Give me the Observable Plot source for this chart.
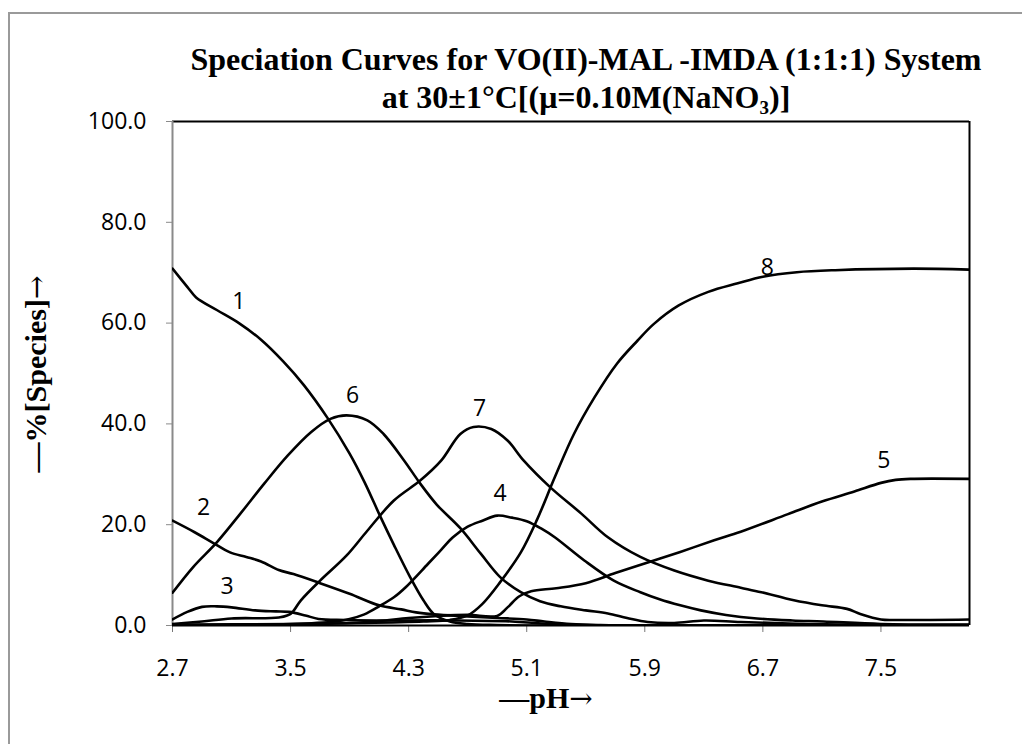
<!DOCTYPE html>
<html>
<head>
<meta charset="utf-8">
<script src="https://cdn.jsdelivr.net/npm/d3@7"></script>
<script src="https://cdn.jsdelivr.net/npm/@observablehq/plot@0.6"></script>
<style>
  html, body { margin: 0; padding: 0; background: #fff; }
  #wrap { position: relative; width: 1022px; height: 744px; overflow: hidden; background: #fff; }
  #wrap svg { position: absolute; left: 0; top: 0; }
  .frame { position: absolute; left: 8px; top: 12px; width: 1014px; height: 740px;
           border-left: 2px solid #9a9a9a; border-top: 2px solid #9a9a9a; }
  .ttl { position: absolute; width: 1000px; text-align: center;
         font-family: "Liberation Serif", "Times New Roman", serif; font-weight: bold;
         font-size: 32px; color: #000; white-space: nowrap; line-height: 1; }
  .ttl sub { font-size: 19px; vertical-align: -6px; line-height: 0; }
  .ylab { position: absolute; left: 36px; top: 374px; transform: translate(-50%, -50%) rotate(-90deg);
          font-family: "Liberation Serif", serif; font-weight: bold; font-size: 30px; white-space: nowrap; line-height: 1; }
  .xlab { position: absolute; left: 546px; top: 698px; transform: translate(-50%, -50%);
          font-family: "Liberation Serif", serif; font-weight: bold; font-size: 30px; white-space: nowrap; line-height: 1; }
  .arr { font-family: "DejaVu Serif", serif; font-weight: normal; font-size: 28px; }
</style>
</head>
<body>
<div id="wrap">
  <div class="frame"></div>
</div>
<script>
// ---- data ----
const xTicks = [2.7, 3.5, 4.3, 5.1, 5.9, 6.7, 7.5];
const yTicks = [0, 20, 40, 60, 80, 100];

const species1 = [[2.7,70.8],[2.8,67.2],[2.86,65.1],[3.0,62.6],[3.15,60.0],[3.3,56.7],[3.45,52.4],[3.59,47.7],[3.75,41.2],[3.9,34.1],[4.0,28.5],[4.11,21.5],[4.2,16.0],[4.31,9.6],[4.4,5.0],[4.47,2.3],[4.58,0.8],[4.7,0.3],[4.9,0.1],[5.2,0],[6.5,0],[8.1,0]];
const species2 = [[2.7,20.8],[2.85,18.5],[2.98,16.3],[3.09,14.5],[3.2,13.6],[3.3,12.7],[3.42,11.0],[3.52,10.2],[3.7,8.4],[3.9,6.3],[4.1,4.0],[4.25,3.2],[4.35,2.6],[4.47,2.2],[4.7,1.8],[4.9,1.5],[5.1,1.2],[5.22,0.8],[5.4,0.3],[5.6,0.1],[6.0,0],[8.1,0]];
const species3 = [[2.7,1.2],[2.8,2.7],[2.9,3.7],[3.0,3.8],[3.1,3.6],[3.26,3.0],[3.4,2.8],[3.49,2.7],[3.6,2.0],[3.69,1.3],[3.87,1.1],[4.2,1.0],[4.6,1.0],[5.0,0.8],[5.2,0.4],[5.5,0.1],[6.0,0],[8.1,0]];
const species4 = [[2.7,0],[3.5,0.3],[3.8,0.8],[3.9,1.3],[4.0,2.2],[4.1,3.8],[4.2,5.6],[4.28,7.6],[4.43,12.2],[4.52,15.0],[4.6,17.5],[4.7,19.6],[4.8,20.8],[4.9,21.8],[5.0,21.4],[5.1,20.7],[5.2,19.2],[5.29,17.5],[5.49,12.9],[5.69,8.9],[5.87,6.6],[6.0,5.2],[6.14,4.0],[6.28,3.0],[6.45,2.1],[6.66,1.4],[6.9,1.0],[7.11,0.8],[7.5,0.3],[8.1,0.2]];
const species5 = [[2.7,0],[3.5,0.2],[3.9,0.5],[4.1,0.9],[4.3,1.5],[4.5,1.9],[4.7,2.1],[4.9,1.9],[4.97,3.6],[5.05,5.8],[5.13,6.8],[5.3,7.4],[5.5,8.4],[5.7,10.4],[5.92,12.5],[6.14,14.6],[6.37,16.9],[6.55,18.6],[6.87,22.1],[7.1,24.6],[7.32,26.6],[7.5,28.3],[7.6,28.9],[7.7,29.1],[8.1,29.1]];
const species6 = [[2.7,6.5],[2.84,11.6],[3.0,16.5],[3.16,22.2],[3.32,28.1],[3.48,33.7],[3.64,38.4],[3.77,41.0],[3.88,41.7],[4.02,40.7],[4.13,38.0],[4.27,32.7],[4.38,28.1],[4.49,24.0],[4.65,19.3],[4.79,14.2],[4.92,9.6],[5.06,6.6],[5.19,4.8],[5.33,3.8],[5.5,3.0],[5.65,2.4],[5.78,1.5],[5.92,0.7],[6.1,0.5],[6.3,1.0],[6.55,0.7],[7.0,0.3],[7.5,0.1],[8.1,0.1]];
const species7 = [[2.7,0.3],[2.9,0.8],[3.1,1.4],[3.42,1.6],[3.5,2.3],[3.57,5.0],[3.7,8.9],[3.88,13.9],[4.02,18.8],[4.2,24.8],[4.38,28.8],[4.52,32.7],[4.65,38.0],[4.74,39.4],[4.86,39.0],[4.97,36.7],[5.08,32.7],[5.26,27.4],[5.47,22.2],[5.65,17.5],[5.87,13.6],[6.1,10.9],[6.33,8.9],[6.55,7.5],[6.69,6.6],[6.91,5.0],[7.1,4.0],[7.27,3.3],[7.36,2.3],[7.5,1.2],[7.6,1.1],[8.1,1.2]];
const species8 = [[2.7,0.2],[3.5,0.3],[4.0,0.5],[4.4,0.8],[4.58,1.1],[4.7,2.0],[4.8,4.3],[4.92,8.6],[5.06,14.5],[5.17,21.0],[5.29,29.4],[5.42,38.0],[5.56,45.3],[5.71,51.9],[5.85,56.5],[5.96,59.8],[6.13,63.5],[6.33,66.2],[6.53,67.9],[6.7,69.2],[6.93,70.1],[7.19,70.5],[7.72,70.8],[8.1,70.6]];

const speciesNames = ["1","2","3","4","5","6","7","8"];
const labelPH  = [3.15, 2.91, 3.07, 4.92, 7.52, 3.92, 4.78, 6.73];
const labelPct = [64.3, 23.3, 7.7, 26.2, 32.7, 45.6, 43.0, 71.1];

// ---- build table ----
const allSeries = [species1, species2, species3, species4, species5, species6, species7, species8];
const rows = allSeries.flatMap((s, i) => s.map(([pH, pct]) => ({species: speciesNames[i], pH, pct})));
const labels = speciesNames.map((n, i) => ({name: n, pH: labelPH[i], pct: labelPct[i]}));
const fmt = d3.format(".1f");

const chart = Plot.plot({
  width: 1022,
  height: 744,
  marginLeft: 172,
  marginRight: 53,
  marginTop: 121,
  marginBottom: 119,
  style: {fontFamily: "'Open Sans', sans-serif", background: "transparent", color: "#000"},
  x: {domain: [2.7, 8.1], label: null},
  y: {domain: [0, 100], label: null},
  marks: [
    Plot.axisY(yTicks, {tickSize: 6, tickPadding: 20, tickFormat: fmt, label: null, stroke: "#8a8a8a", fill: "#000", fontSize: 23}),
    Plot.axisX(xTicks, {tickSize: 7, tickPadding: 27, tickFormat: fmt, label: null, stroke: "#777", fill: "#000", fontSize: 23}),
    Plot.ruleY([100], {stroke: "#000", strokeWidth: 2}),
    Plot.ruleX([8.1], {stroke: "#000", strokeWidth: 2}),
    Plot.ruleY([0], {stroke: "#000", strokeWidth: 2}),
    Plot.ruleX([2.7], {stroke: "#8a8a8a", strokeWidth: 2}),
    Plot.line(rows, {x: "pH", y: "pct", z: "species", stroke: "#000", strokeWidth: 2.6, curve: "catmull-rom", clip: true}),
    Plot.text(labels, {x: "pH", y: "pct", text: "name", fill: "#000", fontSize: 23, fontFamily: "'Open Sans', sans-serif"})
  ]
});
const wrap = document.getElementById("wrap");
wrap.appendChild(chart);

function addDiv(cls, html, style) {
  const d = document.createElement("div");
  d.className = cls;
  d.innerHTML = html;
  Object.assign(d.style, style || {});
  wrap.appendChild(d);
}
addDiv("ttl", "Speciation Curves for VO(II)-MAL -IMDA (1:1:1) System", {left: "86px", top: "43px"});
addDiv("ttl", "at 30±1°C[(μ=0.10M(NaNO<sub>3</sub>)]", {left: "86px", top: "81px"});
addDiv("ylab", "—%[Species]<span class=\"arr\">→</span>");
addDiv("xlab", "—pH<span class=\"arr\">→</span>");
</script>
</body>
</html>
